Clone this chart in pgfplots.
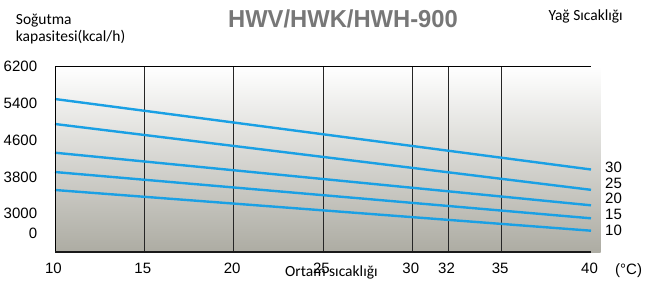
\documentclass[border=0pt]{standalone}
\usepackage{fontspec}
\setmainfont{Liberation Sans}
\newfontfamily\carlito{Carlito}
\usepackage{pgfplots}
\pgfplotsset{compat=1.18}
\definecolor{lineblue}{HTML}{1AA0E4}
\definecolor{bgbot}{HTML}{ADACA3}
\definecolor{bgmid}{HTML}{E2E2DE}
\definecolor{titlegray}{HTML}{777777}
\begin{document}
\begin{tikzpicture}
\shade[top color=white, middle color=bgmid, bottom color=bgbot] (55pt,30pt) rectangle (600.7pt,215.7pt);
\begin{axis}[
  at={(55pt,30pt)}, anchor=south west,
  scale only axis, width=536pt, height=185.7pt,
  xmin=10, xmax=40, ymin=2171, ymax=6200,
  clip=false,
  axis line style={draw=none},
  tick style={draw=none},
  xtick={10,40},
  extra x ticks={15,20,25,30,32,35},
  extra x tick style={grid=major},
  grid style={black!85, line width=0.9pt},
  ytick={2583,3000,3800,4600,5400,6200},
  yticklabels={0\hspace{2.3pt},3000,3800,4600,5400,6200\hspace{-11.7pt}},
  /pgf/number format/assume math mode=true,
  ticklabel style={font=\fontsize{15}{18}\selectfont},
  xticklabel style={anchor=center, inner sep=0pt, yshift=-16.5pt, xshift=-1.5pt},
  yticklabel style={anchor=east, inner sep=0pt, xshift=-17.7pt},
]
\addplot[lineblue, line width=2.4pt] coordinates {(10,5490) (40,3961)};
\addplot[lineblue, line width=2.4pt] coordinates {(10,4948) (40,3520)};
\addplot[lineblue, line width=2.4pt] coordinates {(10,4325) (40,3184)};
\addplot[lineblue, line width=2.4pt] coordinates {(10,3906) (40,2902)};
\addplot[lineblue, line width=2.4pt] coordinates {(10,3516) (40,2633)};
\draw[black, line width=1pt] (rel axis cs:0,0) -- (rel axis cs:0,1);
\draw[black, line width=1pt] (rel axis cs:0,1) -- (rel axis cs:1,1);
\draw[black!90, line width=1.8pt] (rel axis cs:0,0) -- (rel axis cs:1,0);
\end{axis}
\node[anchor=base, inner sep=0pt, font=\fontsize{24.5}{28}\selectfont\bfseries, text=titlegray] at (343pt,254.7pt) {\scalebox{0.97}[1]{HWV/HWK/HWH-900}};
\node[anchor=base west, inner sep=0pt, font=\carlito\fontsize{15.5}{18}\selectfont] at (15.7pt,258pt) {Soğutma};
\node[anchor=base west, inner sep=0pt, font=\carlito\fontsize{15.5}{18}\selectfont] at (15.7pt,240.3pt) {kapasitesi(kcal/h)};
\node[anchor=base west, inner sep=0pt, font=\carlito\fontsize{15.5}{18}\selectfont] at (548.3pt,261.3pt) {Yağ Sıcaklığı};
\node[anchor=base west, inner sep=0pt, font=\carlito\fontsize{15.5}{18}\selectfont] at (285pt,6pt) {Ortam sıcaklığı};
\begin{scope}[every node/.style={anchor=west, inner sep=0pt, font=\fontsize{15}{18}\selectfont}]
\node at (605pt,114.3pt) {30};
\node at (605pt,98.3pt) {25};
\node at (605pt,83.3pt) {20};
\node at (605pt,67.5pt) {15};
\node at (605pt,51.2pt) {10};
\end{scope}
\node[anchor=base west, inner sep=0pt, font=\fontsize{15}{18}\selectfont] at (615pt,7.6pt) {(°C)};
\pgfresetboundingbox
\useasboundingbox (0pt,0pt) rectangle (657pt,282pt);
\end{tikzpicture}
\end{document}
